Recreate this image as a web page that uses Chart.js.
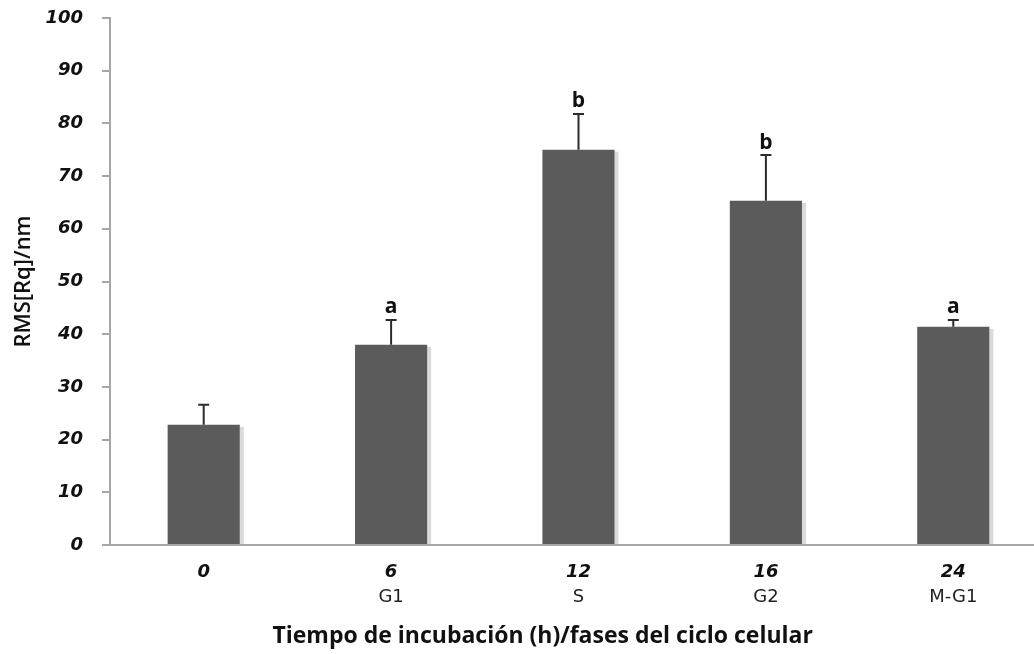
<!DOCTYPE html>
<html>
<head>
<meta charset="utf-8">
<script src="https://cdn.jsdelivr.net/npm/chart.js@4"></script>
<style>
  html, body { margin: 0; padding: 0; background: #fff; overflow: hidden; }
  #wrap { width: 1048px; height: 654px; }
</style>
</head>
<body>
<div id="wrap"><canvas id="rmsChart"></canvas></div>
<script>
// Incubation time (h) and cell cycle phase for each group
const hours = ['0', '6', '12', '16', '24'];
const phases = ['', 'G1', 'S', 'G2', 'M-G1'];

// RMS roughness (nm), standard deviation and significance letters
const rmsMean = [22.8, 38.0, 75.0, 65.3, 41.4];
const rmsError = [3.8, 4.7, 6.8, 8.7, 1.3];
const groupLetters = ['', 'a', 'b', 'b', 'a'];

const BAR_COLOR = '#5b5b5b';
const AXIS_COLOR = '#a6a6a6';

// Light strip to the right of each bar
const barShadow = {
    id: 'barShadow',
    beforeDatasetsDraw(chart) {
        const ctx = chart.ctx;
        const meta = chart.getDatasetMeta(0);
        ctx.save();
        meta.data.forEach(bar => {
            const right = bar.x + bar.width / 2;
            ctx.fillStyle = '#dadada';
            ctx.fillRect(right, bar.y + 2, 4, bar.base - bar.y - 2);
        });
        ctx.restore();
    }
};

// Error bars (upper half only) with the letter above the cap
const errorBars = {
    id: 'errorBars',
    afterDatasetsDraw(chart) {
        const ctx = chart.ctx;
        const yScale = chart.scales.y;
        const meta = chart.getDatasetMeta(0);
        ctx.save();
        ctx.strokeStyle = '#2b2b2b';
        ctx.lineWidth = 2;
        meta.data.forEach((bar, i) => {
            const top = yScale.getPixelForValue(rmsMean[i] + rmsError[i]);
            ctx.beginPath();
            ctx.moveTo(bar.x, bar.y);
            ctx.lineTo(bar.x, top);
            ctx.moveTo(bar.x - 5.5, top);
            ctx.lineTo(bar.x + 5.5, top);
            ctx.stroke();
            if (groupLetters[i]) {
                ctx.fillStyle = '#111';
                ctx.font = 'bold 21px "Open Sans"';
                ctx.textAlign = 'center';
                ctx.textBaseline = 'bottom';
                ctx.fillText(groupLetters[i], bar.x, top - 2);
            }
        });
        ctx.restore();
    }
};

new Chart(document.getElementById('rmsChart'), {
    type: 'bar',
    data: {
        labels: hours,
        datasets: [{
            data: rmsMean,
            backgroundColor: BAR_COLOR,
            borderWidth: 0,
            categoryPercentage: 1,
            barPercentage: 0.385
        }]
    },
    options: {
        responsive: true,
        maintainAspectRatio: false,
        animation: false,
        layout: { padding: { top: 18, right: 1, left: 0, bottom: 4 } },
        plugins: {
            legend: { display: false },
            tooltip: { enabled: false }
        },
        scales: {
            x: {
                afterFit(scale) { scale.height = 40; },
                grid: { display: false, drawTicks: false },
                border: { color: AXIS_COLOR, width: 2 },
                ticks: {
                    color: '#111',
                    padding: 17,
                    font: { family: 'DejaVu Sans', size: 18, weight: 'bold', style: 'italic' }
                }
            },
            x2: {
                type: 'category',
                position: 'bottom',
                labels: phases,
                afterFit(scale) { scale.height = 65; },
                grid: { display: false, drawTicks: false },
                border: { display: false },
                ticks: {
                    color: '#222',
                    padding: 2,
                    font: { family: 'DejaVu Sans', size: 18 }
                },
                title: {
                    display: true,
                    // trailing spaces nudge the centred title to the left
                    text: 'Tiempo de incubación (h)/fases del ciclo celular' + '\u00a0'.repeat(12),
                    color: '#111',
                    padding: { top: 0, bottom: 0 },
                    font: { family: 'Open Sans', size: 23, weight: 'bold' }
                }
            },
            y: {
                min: 0,
                max: 100,
                afterFit(scale) {
                    scale.width = 110;
                    scale.paddingTop = 0;
                    scale.paddingBottom = 0;
                },
                grid: {
                    drawOnChartArea: false,
                    color: AXIS_COLOR,
                    lineWidth: 2,
                    tickLength: 8
                },
                border: { color: AXIS_COLOR, width: 2 },
                ticks: {
                    stepSize: 10,
                    color: '#111',
                    padding: 19,
                    font: { family: 'DejaVu Sans', size: 18, weight: 'bold', style: 'italic' }
                },
                title: {
                    display: true,
                    text: 'RMS[Rq]/nm',
                    color: '#111',
                    padding: { top: 11, bottom: 7 },
                    font: { family: 'Open Sans', size: 22, weight: '600' }
                }
            }
        }
    },
    plugins: [barShadow, errorBars]
});
</script>
</body>
</html>
